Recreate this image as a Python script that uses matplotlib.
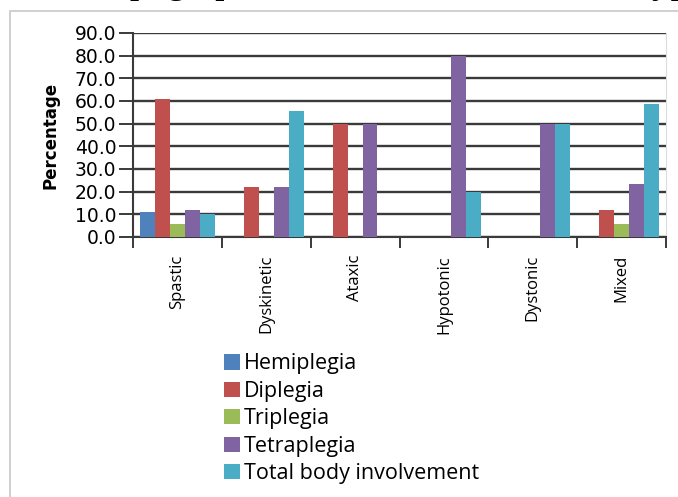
import matplotlib
matplotlib.use("Agg")
import matplotlib.pyplot as plt
import numpy as np
from matplotlib.patches import Rectangle, Patch

# CP type categories and percentage per topographic group
categories = ["Spastic", "Dyskinetic", "Ataxic", "Hypotonic", "Dystonic", "Mixed"]
series_names = ["Hemiplegia", "Diplegia", "Triplegia", "Tetraplegia",
                "Total body involvement"]
hemiplegia = [11.1, 0.0, 0.0, 0.0, 0.0, 0.0]
diplegia = [60.9, 22.2, 50.0, 0.0, 0.0, 11.8]
triplegia = [5.9, 0.0, 0.0, 0.0, 0.0, 5.9]
tetraplegia = [11.8, 22.2, 50.0, 80.0, 50.0, 23.5]
total_body = [10.3, 55.6, 0.0, 20.0, 50.0, 58.8]
y_ticks = [0, 10, 20, 30, 40, 50, 60, 70, 80, 90]

colors = ["#4F81BD", "#C0504D", "#9BBB59", "#8064A2", "#4BACC6"]
series = [hemiplegia, diplegia, triplegia, tetraplegia, total_body]
axis_col = "#3a3a3a"

W, H = 678, 497
fig = plt.figure(figsize=(W / 100, H / 100), dpi=100)

# caption line of the page, mostly above the crop
fig.text(91 / W, 1 + 7 / H, "Topographic distribution in each CP type",
         family="Liberation Serif", fontsize=27, va="baseline", ha="left")

# outer chart border
fig.patches.append(Rectangle((10 / W, -0.1), 1.2, 1 - 11 / H + 0.1,
                             transform=fig.transFigure, fill=False,
                             edgecolor="#c8c8c8", linewidth=1.2))

ax = fig.add_axes([133 / W, 1 - 237 / H, (666 - 133) / W, (237 - 33) / H])
x = np.arange(len(categories))
width = 0.168
for i, (vals, col) in enumerate(zip(series, colors)):
    ax.bar(x + (i - 2) * width, vals, width, color=col, edgecolor="none",
           zorder=3)

ax.set_xlim(-0.5, len(categories) - 0.5)
ax.set_ylim(0, 90)
ax.set_yticks(y_ticks)
ax.set_yticklabels([f"{v:.1f}" for v in y_ticks], fontsize=13.5)
ax.yaxis.grid(True, color=axis_col, linewidth=1.7, zorder=0)
ax.set_axisbelow(True)

ax.set_xticks(x)
ax.set_xticklabels(categories, rotation=90, fontsize=12, family="Open Sans",
                   va="top")
ax.set_xticks(np.arange(len(categories) + 1) - 0.5, minor=True)
ax.tick_params(axis="x", which="major", length=0, pad=13)
ax.tick_params(axis="x", which="minor", length=8, width=1.4, color=axis_col)
ax.tick_params(axis="y", length=10, width=1.4, color=axis_col, pad=2)

ax.set_ylabel("Percentage", fontsize=12, fontweight="bold", labelpad=11)

for side in ["left", "bottom"]:
    ax.spines[side].set_color(axis_col)
    ax.spines[side].set_linewidth(1.5)
ax.spines["top"].set_visible(False)
ax.spines["right"].set_color("#dcdcdc")

handles = [Patch(facecolor=c, edgecolor="none") for c in colors]
fig.legend(handles, series_names, loc="upper left",
           bbox_to_anchor=(205 / W, 1 - 334 / H), frameon=False,
           prop={"family": "Open Sans", "size": 15.5},
           handlelength=0.72, handleheight=0.72, handletextpad=0.2,
           labelspacing=0.3)

fig.savefig("out.png", dpi=100)
